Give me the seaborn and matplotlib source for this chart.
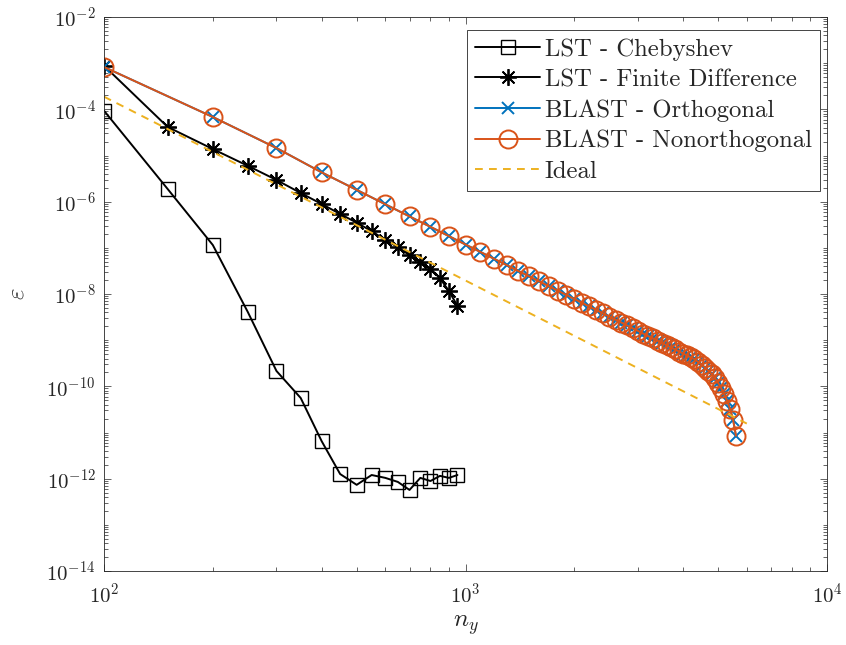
import numpy as np
import pandas as pd
import matplotlib
matplotlib.use("Agg")
import matplotlib.pyplot as plt
import seaborn as sns
from matplotlib.ticker import LogLocator, NullFormatter

# ---------------- data ----------------
n_lst = [100, 150, 200, 250, 300, 350, 400, 450, 500, 550, 600, 650, 700,
         750, 800, 850, 900, 950]
err_cheb = [9.35e-5, 1.88e-6, 1.15e-7, 4.05e-9, 2.15e-10, 5.6e-11, 6.5e-12,
            1.26e-12, 7.35e-13, 1.2e-12, 1.04e-12, 8.5e-13, 5.7e-13, 1.04e-12,
            8.9e-13, 1.15e-12, 1.04e-12, 1.2e-12]
err_fd = [8.8e-4, 4.15e-5, 1.38e-5, 5.97e-6, 2.95e-6, 1.54e-6, 8.9e-7, 5.42e-7,
          3.5e-7, 2.3e-7, 1.48e-7, 1.04e-7, 6.92e-8, 4.86e-8, 3.53e-8, 2.19e-8,
          1.16e-8, 5.52e-9]

n_blast = [100, 200, 300, 400, 500, 600, 700, 800, 900, 1000,
           1100, 1200, 1300, 1400, 1500, 1600, 1700, 1800, 1900, 2000,
           2100, 2200, 2300, 2400, 2500, 2600, 2700, 2800, 2900, 3000,
           3100, 3200, 3300, 3400, 3500, 3600, 3700, 3800, 3900, 4000,
           4100, 4200, 4300, 4400, 4500, 4600, 4700, 4800, 4900, 5000,
           5100, 5200, 5300, 5400, 5500, 5600]
err_blast_ortho = [8.27e-4, 6.82e-5, 1.45e-5, 4.31e-6, 1.80e-6, 8.78e-7,
                   4.79e-7, 2.85e-7, 1.79e-7, 1.18e-7,
                   8.13e-8, 5.78e-8, 4.23e-8, 3.15e-8, 2.41e-8, 1.87e-8,
                   1.48e-8, 1.18e-8, 9.54e-9, 7.80e-9,
                   6.44e-9, 5.37e-9, 4.50e-9, 3.81e-9, 3.24e-9, 2.78e-9,
                   2.40e-9, 2.08e-9, 1.81e-9, 1.59e-9,
                   1.39e-9, 1.23e-9, 1.09e-9, 9.71e-10, 8.66e-10, 7.76e-10,
                   6.97e-10, 6.28e-10, 5.67e-10, 5.13e-10,
                   4.67e-10, 4.25e-10, 3.87e-10, 3.37e-10, 2.95e-10, 2.53e-10,
                   2.17e-10, 1.83e-10, 1.50e-10, 1.18e-10,
                   9.06e-11, 6.68e-11, 4.70e-11, 3.17e-11, 1.86e-11, 8.52e-12]
err_blast_nonortho = [8.27e-4, 6.82e-5, 1.45e-5, 4.31e-6, 1.80e-6, 8.78e-7,
                      4.79e-7, 2.85e-7, 1.79e-7, 1.18e-7,
                      8.13e-8, 5.78e-8, 4.23e-8, 3.15e-8, 2.41e-8, 1.87e-8,
                      1.48e-8, 1.18e-8, 9.54e-9, 7.80e-9,
                      6.44e-9, 5.37e-9, 4.50e-9, 3.81e-9, 3.24e-9, 2.78e-9,
                      2.40e-9, 2.08e-9, 1.81e-9, 1.59e-9,
                      1.39e-9, 1.23e-9, 1.09e-9, 9.71e-10, 8.66e-10, 7.76e-10,
                      6.97e-10, 6.28e-10, 5.67e-10, 5.13e-10,
                      4.67e-10, 4.25e-10, 3.87e-10, 3.37e-10, 2.95e-10, 2.53e-10,
                      2.17e-10, 1.83e-10, 1.50e-10, 1.18e-10,
                      9.06e-11, 6.68e-11, 4.70e-11, 3.17e-11, 1.86e-11, 8.52e-12]

n_ideal = [100, 6000]
err_ideal = [1.88e-4, 1.56e-11]

labels = ["LST - Chebyshev", "LST - Finite Difference", "BLAST - Orthogonal",
          "BLAST - Nonorthogonal", "Ideal"]

# ---------------- style ----------------
sns.set_style("ticks")
plt.rcParams.update({
    "font.family": "serif",
    "font.serif": ["cmr10", "DejaVu Serif"],
    "mathtext.fontset": "cm",
    "axes.unicode_minus": False,
    "axes.formatter.use_mathtext": True,
    "font.size": 14,
})

BLUE = "#0072BD"
ORANGE = "#D95319"
YELLOW = "#EDB120"
AX = "#262626"

fig = plt.figure(figsize=(8.46, 6.45), dpi=100)
ax = fig.add_axes([104 / 846, 1 - 571 / 645, (827 - 104) / 846, (571 - 17) / 645])

lw = 1.4
sns.lineplot(x=n_lst, y=err_cheb, ax=ax, color="black", lw=lw, marker="s",
             markersize=9.5, markerfacecolor="none", markeredgecolor="black",
             markeredgewidth=1.0, label=labels[0], legend=False)
sns.lineplot(x=n_lst, y=err_fd, ax=ax, color="black", lw=lw, marker=(8, 2, 0),
             markersize=12, markeredgecolor="black", markeredgewidth=1.3,
             label=labels[1], legend=False)
sns.lineplot(x=n_blast, y=err_blast_ortho, ax=ax, color=BLUE, lw=lw, marker="x",
             markersize=9, markeredgecolor=BLUE, markeredgewidth=1.4,
             label=labels[2], legend=False)
sns.lineplot(x=n_blast, y=err_blast_nonortho, ax=ax, color=ORANGE, lw=lw,
             marker="o", markersize=13, markerfacecolor="none",
             markeredgecolor=ORANGE, markeredgewidth=1.4,
             label=labels[3], legend=False)
sns.lineplot(x=n_ideal, y=err_ideal, ax=ax, color=YELLOW, lw=1.4,
             dashes=False, label=labels[4], legend=False)
ax.get_lines()[-1].set_dashes((4, 3.2))

ax.set_xscale("log")
ax.set_yscale("log")
ax.set_xlim(1e2, 1e4)
ax.set_ylim(1e-14, 1e-2)

ax.set_yticks([1e-2, 1e-4, 1e-6, 1e-8, 1e-10, 1e-12, 1e-14])
ax.yaxis.set_minor_locator(LogLocator(base=10, subs=np.arange(1, 10), numticks=100))
ax.yaxis.set_minor_formatter(NullFormatter())
ax.xaxis.set_minor_locator(LogLocator(base=10, subs=np.arange(2, 10), numticks=100))
ax.xaxis.set_minor_formatter(NullFormatter())

for s in ax.spines.values():
    s.set_visible(True)
    s.set_color(AX)
    s.set_linewidth(0.6)
ax.tick_params(which="both", direction="in", top=True, right=True, colors=AX,
               width=0.5, labelsize=15)
ax.tick_params(which="major", length=5, pad=8)
ax.tick_params(which="minor", length=3)
ax.tick_params(axis="y", which="major", pad=6)

ax.set_xlabel(r"$n_y$", fontsize=18, color=AX, labelpad=5)
ax.set_ylabel(r"$\varepsilon$", fontsize=18, color=AX, labelpad=13)

leg = ax.legend(loc="upper right", bbox_to_anchor=(0.990, 0.9765),
                borderaxespad=0, fontsize=17.8, frameon=True, fancybox=False,
                edgecolor=AX, handlelength=2.6, handletextpad=0.2,
                labelspacing=0.33, borderpad=0.33, numpoints=1)
leg.get_frame().set_linewidth(0.6)
leg.get_frame().set_alpha(1)

fig.savefig("out.png", dpi=100)
